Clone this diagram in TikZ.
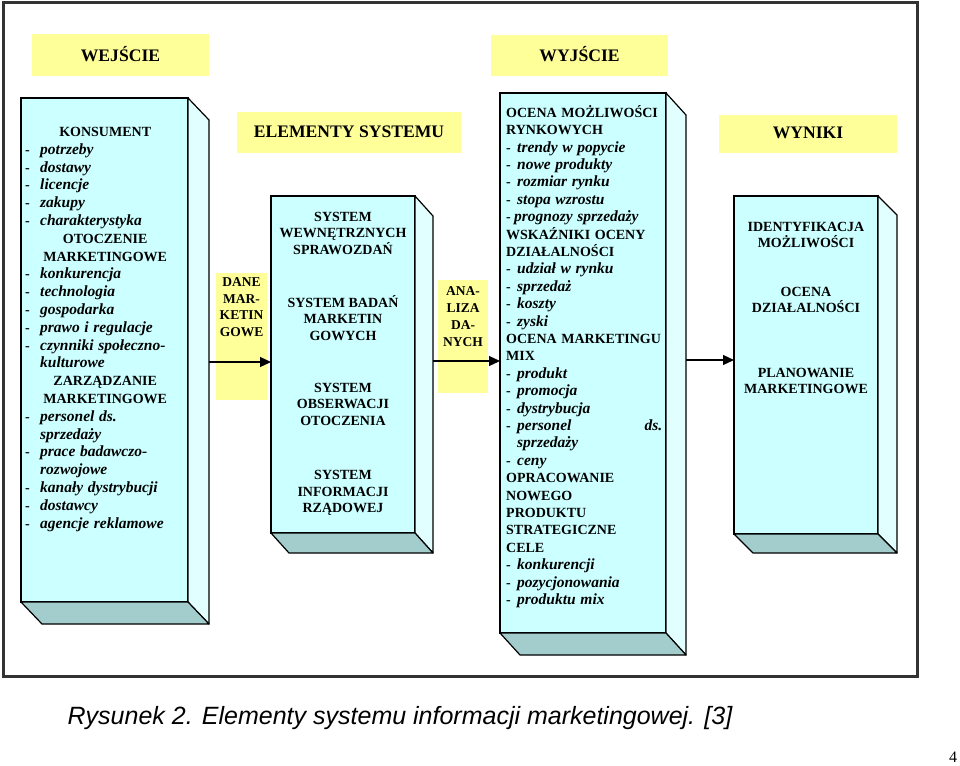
\documentclass[tikz,border=0pt]{standalone}
\usepackage{fontspec}
\setmainfont{Liberation Serif}
\newfontfamily\podpisfont{Liberation Sans}
\usetikzlibrary{positioning, arrows.meta}
\definecolor{zolty}{HTML}{FFFF99}
\definecolor{przod}{HTML}{CCFFFF}
\definecolor{bok}{HTML}{E2FFFF}
\definecolor{spod}{HTML}{A3CCCC}
\tikzset{
x=1pt, y=-1pt, % one unit = one pixel of the page, y grows downwards
etykieta/.style={fill=zolty, inner sep=0pt, font=\bfseries\fontsize{17.6}{20}\selectfont}, % yellow headers
pole/.style={fill=zolty, inner sep=0pt}, % yellow strip behind a short label
lico/.style={draw, line width=1.2pt, fill=przod, inner sep=0pt, outer sep=0pt, anchor=north west}, % front face of a box
bok/.style={draw, line width=1.2pt, fill=bok, line join=round}, % right face of a box
spod/.style={draw, line width=1.2pt, fill=spod, line join=round}, % bottom face of a box
tekst/.style={inner sep=0pt, anchor=north west, align=left},
grupa/.style={inner sep=0pt, align=center, font=\bfseries\fontsize{14}{16.5}\selectfont},
strzalka/.style={-{Triangle[length=11pt, width=10pt]}, line width=1.2pt}, % arrows between boxes
}
\newcommand{\srodek}[1]{\makebox[160pt]{\bfseries #1}}
\newcommand{\punkt}[2][15pt]{\makebox[#1][l]{\bfseries -}{\bfseries\itshape\fontsize{15.5}{17}\selectfont #2}}
\newcommand{\dalej}[2][15pt]{\hspace*{#1}{\bfseries\itshape\fontsize{15.5}{17}\selectfont #2}}

\begin{document}
\begin{tikzpicture}
    \useasboundingbox (0,0) rectangle (960,765);
    % outer frame
    \draw[line width=3pt, black!80] (3,3) rectangle (917,676);

    % headers
    \node[etykieta, minimum width=177, minimum height=42, text depth=3pt] (wejscie) at (120.5,55) {WEJŚCIE};
    \node[etykieta, minimum width=177, minimum height=41, text depth=3pt] (wyjscie) at (579.5,55.5) {WYJŚCIE};
    \node[etykieta, minimum width=224, minimum height=41, text depth=2pt] (elementy) at (349,132.5) {ELEMENTY SYSTEMU};
    \node[etykieta, minimum width=178, minimum height=38, text depth=2pt] (wynikitxt) at (808,134) {WYNIKI};

    % input box
    \node[lico, minimum width=167, minimum height=504] (konsument) at (21,98) {};
    \draw[bok] (konsument.north east) -- ++(21,22) -- ([shift={(21,22)}]konsument.south east) -- (konsument.south east) -- cycle;
    \draw[spod] (konsument.south west) -- ++(21,22) -- ([shift={(21,22)}]konsument.south east) -- (konsument.south east) -- cycle;
    \node[tekst, text width=160, font=\fontsize{14}{17.8}\selectfont] (konsumenttxt) at (25,127) {%
        \srodek{KONSUMENT}\\
        \punkt{potrzeby}\\
        \punkt{dostawy}\\
        \punkt{licencje}\\
        \punkt{zakupy}\\
        \punkt{charakterystyka}\\
        \srodek{OTOCZENIE}\\
        \srodek{MARKETINGOWE}\\
        \punkt{konkurencja}\\
        \punkt{technologia}\\
        \punkt{gospodarka}\\
        \punkt{prawo i regulacje}\\
        \punkt{czynniki społeczno-}\\
        \dalej{kulturowe}\\
        \srodek{ZARZĄDZANIE}\\
        \srodek{MARKETINGOWE}\\
        \punkt{personel ds.}\\
        \dalej{sprzedaży}\\
        \punkt{prace badawczo-}\\
        \dalej{rozwojowe}\\
        \punkt{kanały dystrybucji}\\
        \punkt{dostawcy}\\
        \punkt{agencje reklamowe}};

    % data labels
    \node[pole, minimum width=51, minimum height=127] (dane) at (241.5,336.5) {};
    \node[grupa, font=\bfseries\fontsize{13.5}{16.5}\selectfont] (danetxt) at (241.5,307) {DANE\\MAR-\\KETIN\\GOWE};
    \node[pole, minimum width=50, minimum height=113] (analiza) at (463,336.5) {};
    \node[grupa, font=\bfseries\fontsize{13.5}{17}\selectfont] (analizatxt) at (463,317) {ANA-\\LIZA\\DA-\\NYCH};

    % system box
    \node[lico, minimum width=144, minimum height=337] (system) at (271,196) {};
    \draw[bok] (system.north east) -- ++(18,20) -- ([shift={(18,20)}]system.south east) -- (system.south east) -- cycle;
    \draw[spod] (system.south west) -- ++(18,20) -- ([shift={(18,20)}]system.south east) -- (system.south east) -- cycle;
    \node[grupa] (sprawozdan) at (343,233) {SYSTEM\\WEWNĘTRZNYCH\\SPRAWOZDAŃ};
    \node[grupa] (badan) at (343,318) {SYSTEM BADAŃ\\MARKETIN\\GOWYCH};
    \node[grupa] (obserwacji) at (343,404) {SYSTEM\\OBSERWACJI\\OTOCZENIA};
    \node[grupa] (rzadowej) at (343,493) {SYSTEM\\INFORMACJI\\RZĄDOWEJ};

    % output box
    \node[lico, minimum width=166, minimum height=540] (ocena) at (500,93) {};
    \draw[bok] (ocena.north east) -- ++(20,22) -- ([shift={(20,22)}]ocena.south east) -- (ocena.south east) -- cycle;
    \draw[spod] (ocena.south west) -- ++(20,22) -- ([shift={(20,22)}]ocena.south east) -- (ocena.south east) -- cycle;
    \node[tekst, text width=156, font=\fontsize{14}{17.4}\selectfont] (ocenatxt) at (506,105) {%
        \textbf{OCENA MOŻLIWOŚCI}\\
        \textbf{RYNKOWYCH}\\
        \punkt[11pt]{trendy w popycie}\\
        \punkt[11pt]{nowe produkty}\\
        \punkt[11pt]{rozmiar rynku}\\
        \punkt[11pt]{stopa wzrostu}\\
        \punkt[8pt]{prognozy sprzedaży}\\
        \textbf{WSKAŹNIKI OCENY}\\
        \textbf{DZIAŁALNOŚCI}\\
        \punkt[11pt]{udział w rynku}\\
        \punkt[11pt]{sprzedaż}\\
        \punkt[11pt]{koszty}\\
        \punkt[11pt]{zyski}\\
        \textbf{OCENA MARKETINGU}\\
        \textbf{MIX}\\
        \punkt[11pt]{produkt}\\
        \punkt[11pt]{promocja}\\
        \punkt[11pt]{dystrybucja}\\
        \punkt[11pt]{personel}\hfill{\bfseries\itshape\fontsize{15.5}{17}\selectfont ds.}\\
        \dalej[11pt]{sprzedaży}\\
        \punkt[11pt]{ceny}\\
        \textbf{OPRACOWANIE}\\
        \textbf{NOWEGO}\\
        \textbf{PRODUKTU}\\
        \textbf{STRATEGICZNE}\\
        \textbf{CELE}\\
        \punkt[11pt]{konkurencji}\\
        \punkt[11pt]{pozycjonowania}\\
        \punkt[11pt]{produktu mix}};

    % results box
    \node[lico, minimum width=144, minimum height=338] (wyniki) at (734,196) {};
    \draw[bok] (wyniki.north east) -- ++(19,19) -- ([shift={(19,19)}]wyniki.south east) -- (wyniki.south east) -- cycle;
    \draw[spod] (wyniki.south west) -- ++(19,19) -- ([shift={(19,19)}]wyniki.south east) -- (wyniki.south east) -- cycle;
    \node[grupa] (identyfikacja) at (806,235) {IDENTYFIKACJA\\MOŻLIWOŚCI};
    \node[grupa] (dzialalnosci) at (806,300) {OCENA\\DZIAŁALNOŚCI};
    \node[grupa] (planowanie) at (806,381) {PLANOWANIE\\MARKETINGOWE};

    % arrows
    \draw[strzalka] ([xshift=21pt, yshift=2.5pt]konsument.east |- system.west) -- ([yshift=2.5pt]system.west);
    \draw[strzalka] ([xshift=18pt, yshift=3.5pt]system.east) -- ([yshift=3.5pt]system.west -| ocena.west);
    \draw[strzalka] ([xshift=20pt, yshift=5pt]ocena.east |- wyniki.west) -- ([yshift=5pt]wyniki.west);

    % caption and page number
    \node[font=\podpisfont\itshape\fontsize{25}{29}\selectfont, inner sep=0pt] (podpis) at (400,718) {Rysunek 2. Elementy systemu informacji marketingowej. [3]};
    \node[font=\fontsize{16}{18}\selectfont, inner sep=0pt] (strona) at (953,757) {4};
\end{tikzpicture}
\end{document}
